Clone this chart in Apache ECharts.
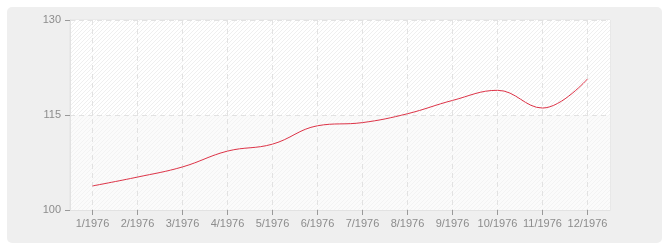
<!DOCTYPE html>
<html><head><meta charset="utf-8">
<script src="https://cdn.jsdelivr.net/npm/echarts@6/dist/echarts.min.js"></script>
<style>html,body{margin:0;padding:0;background:#fff}#c{width:670px;height:250px}</style>
</head><body><div id="c"></div>
<script>
var categories = ['1/1976','2/1976','3/1976','4/1976','5/1976','6/1976','7/1976','8/1976','9/1976','10/1976','11/1976','12/1976'];
var values = [103.8, 105.2, 106.8, 109.3, 110.4, 113.3, 113.8, 115.2, 117.3, 118.9, 116.1, 120.7];
var yTicks = [100, 115, 130];

function hatch(bg, fg) {
  var c = document.createElement('canvas');
  c.width = 4; c.height = 4;
  var x = c.getContext('2d');
  x.fillStyle = bg; x.fillRect(0, 0, 4, 4);
  x.fillStyle = fg;
  for (var i = 0; i < 4; i++) x.fillRect(i, 3 - i, 1, 1);
  return {image: c, repeat: 'repeat'};
}

var chart = echarts.init(document.getElementById('c'), null, {renderer: 'canvas'});
var font = 'Liberation Sans';
chart.setOption({
  backgroundColor: '#ffffff',
  animation: false,
  graphic: [{
    type: 'rect', z: -10, silent: true,
    shape: {x: 7, y: 7, width: 655, height: 236, r: 5},
    style: {fill: '#efefef'}
  }],
  grid: {left: 70, right: 60, top: 20, bottom: 40, show: true, borderColor: '#e2e2e2', borderWidth: 1, backgroundColor: 'transparent'},
  xAxis: {
    type: 'category', data: categories, boundaryGap: true,
    axisLine: {show: true, lineStyle: {color: '#e2e2e2'}},
    axisTick: {show: true, alignWithLabel: true, length: 5, lineStyle: {color: '#999'}},
    axisLabel: {color: '#8c8c8c', fontSize: 11, fontFamily: font, margin: 8, interval: 0},
    splitLine: {show: true, alignWithLabel: true, lineStyle: {color: '#e2e2e2', type: [5, 4]}}
  },
  yAxis: {
    type: 'value', min: yTicks[0], max: yTicks[yTicks.length - 1], interval: 15,
    axisLine: {show: true, lineStyle: {color: '#e2e2e2'}},
    axisTick: {show: true, length: 5, lineStyle: {color: '#999'}},
    axisLabel: {color: '#8c8c8c', fontSize: 11, fontFamily: font, margin: 9},
    splitLine: {show: true, lineStyle: {color: '#e2e2e2', type: [5, 4]}},
    splitArea: {show: true, areaStyle: {color: [hatch('#fbfbfb', '#f3f3f3'), hatch('#ffffff', '#efefef')]}}
  },
  series: [{
    type: 'line', data: values, smooth: 0.4, symbol: 'none',
    lineStyle: {color: '#dd3347', width: 1}
  }]
});
</script></body></html>
